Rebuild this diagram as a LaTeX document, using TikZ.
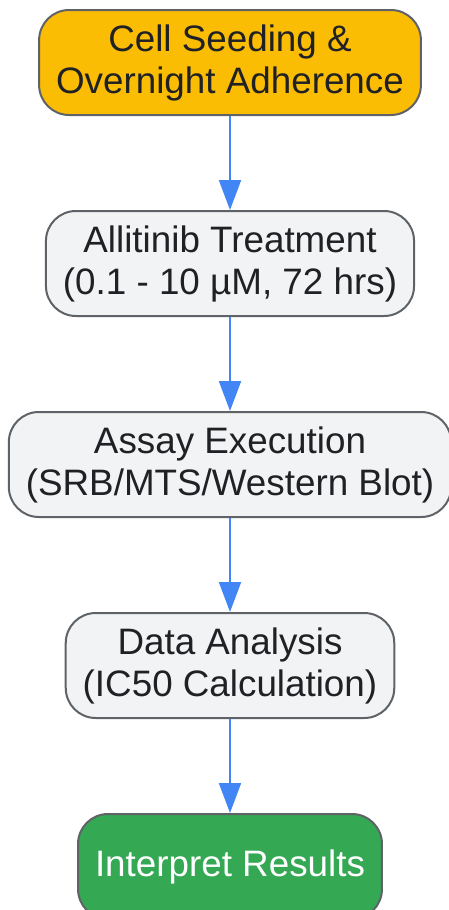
\documentclass[tikz,border=0pt]{standalone}
\usepackage{fontspec}
\setmainfont{Liberation Sans}
\usepackage{tikz}
\usetikzlibrary{positioning,arrows.meta}

\definecolor{seedyellow}{HTML}{FBBC04}
\definecolor{boxgray}{HTML}{F1F3F4}
\definecolor{resgreen}{HTML}{34A853}
\definecolor{edgegray}{HTML}{5F6368}
\definecolor{arrowblue}{HTML}{4285F4}
\definecolor{textdark}{HTML}{202124}

\begin{document}
\begin{tikzpicture}
		[node distance=94pt,
		box/.style={draw=edgegray, line width=2pt, rounded corners=30pt, fill=boxgray, text=textdark,
			align=center, minimum height=105pt, inner xsep=17pt, inner ysep=8pt,
			font=\fontsize{36.8}{42}\selectfont},
		flow/.style={->, >={Triangle[length=30pt,width=22pt]}, draw=arrowblue, line width=2pt}]
		\useasboundingbox (0,0) rectangle (449pt,-910pt);
		\node[box, fill=seedyellow] (1) at (230pt,-62.5pt) {Cell Seeding \&\\Overnight Adherence};
		\node[box, below=of 1] (2) {Allitinib Treatment\\(0.1 - 10 µM, 72 hrs)};
		\node[box, below=of 2] (3) {Assay Execution\\(SRB/MTS/Western Blot)};
		\node[box, below=of 3] (4) {Data Analysis\\(IC50 Calculation)};
		\node[box, fill=resgreen, text=white, below=of 4] (5) {Interpret Results};
		
		\draw[flow] (1) -- (2);
		\draw[flow] (2) -- (3);
		\draw[flow] (3) -- (4);
		\draw[flow] (4) -- (5);
		\end{tikzpicture}
\end{document}
